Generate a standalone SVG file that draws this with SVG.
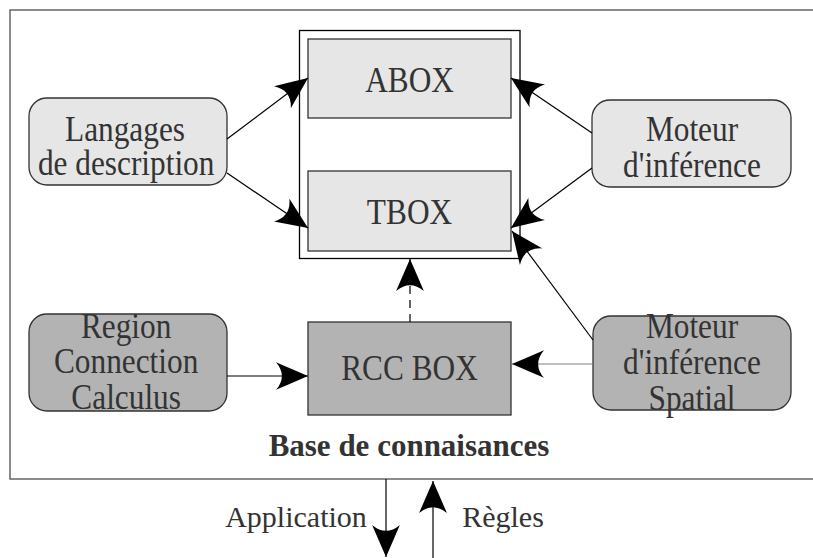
<svg xmlns="http://www.w3.org/2000/svg" width="813" height="558" viewBox="0 0 813 558">
<style>
text{font-family:"Liberation Serif","Times New Roman",serif;fill:#333;text-anchor:middle}
.t{font-size:36px}
.light{fill:#e6e6e6;stroke:#333;stroke-width:1.3}
.dark{fill:#b3b3b3;stroke:#333;stroke-width:1.3}
.ln{stroke:#000;stroke-width:1.2;fill:none}
</style>
<defs>
<marker id="ah" markerUnits="userSpaceOnUse" markerWidth="32" markerHeight="28" viewBox="0 0 30 26" refX="30" refY="13" orient="auto">
<path d="M30,13 Q14,6 0,0 Q11,13 0,26 Q14,20 30,13 Z" fill="#000"/>
</marker>
</defs>
<rect x="10" y="10" width="820" height="469" fill="#fff" stroke="#666" stroke-width="1.5"/>
<g id="container"><rect x="299.5" y="30.5" width="220.5" height="228" fill="#fff" stroke="#000" stroke-width="1.3"/></g>
<g id="abox"><rect class="light" x="308" y="39" width="203" height="79"/><text class="t" transform="scale(0.87,1)" x="470.7" y="92">ABOX</text></g>
<g id="tbox"><rect class="light" x="308" y="171" width="203" height="80"/><text class="t" transform="scale(0.87,1)" x="470.7" y="224">TBOX</text></g>
<g id="langages"><rect class="light" x="29" y="98" width="198" height="87" rx="18"/><text class="t" transform="scale(0.87,1)" x="143.7" y="141">Langages</text><text class="t" transform="scale(0.87,1)" x="145" y="175">de description</text></g>
<g id="moteur"><rect class="light" x="592" y="100" width="199" height="87" rx="18"/><text class="t" transform="scale(0.87,1)" x="795.4" y="141">Moteur</text><text class="t" transform="scale(0.87,1)" x="795.4" y="177">d'inférence</text></g>
<g id="region"><rect class="dark" x="29" y="314" width="198" height="97" rx="18"/><text class="t" transform="scale(0.87,1)" x="145" y="338">Region</text><text class="t" transform="scale(0.87,1)" x="145" y="373">Connection</text><text class="t" transform="scale(0.87,1)" x="145" y="409">Calculus</text></g>
<g id="rcc"><rect class="dark" x="308" y="322" width="203" height="93"/><text class="t" transform="scale(0.87,1)" x="470.7" y="380">RCC BOX</text></g>
<g id="spatial"><rect class="dark" x="593" y="316" width="198" height="94" rx="18"/><text class="t" transform="scale(0.87,1)" x="795.4" y="338">Moteur</text><text class="t" transform="scale(0.87,1)" x="795.4" y="374">d'inférence</text><text class="t" transform="scale(0.87,1)" x="795.4" y="410">Spatial</text></g>
<g id="connectors">
<line class="ln" x1="227" y1="139" x2="308" y2="78" marker-end="url(#ah)"/>
<line class="ln" x1="227" y1="173" x2="308" y2="228" marker-end="url(#ah)"/>
<line class="ln" x1="592" y1="133" x2="511" y2="78" marker-end="url(#ah)"/>
<line class="ln" x1="592" y1="168" x2="511" y2="228" marker-end="url(#ah)"/>
<line class="ln" x1="593" y1="340" x2="512" y2="231" marker-end="url(#ah)"/>
<line class="ln" x1="227" y1="376" x2="308" y2="376" marker-end="url(#ah)"/>
<line class="ln" x1="593" y1="364" x2="512" y2="364" style="stroke:#808080" marker-end="url(#ah)"/>
<line class="ln" x1="410" y1="322" x2="410" y2="259" stroke-dasharray="8,6" marker-end="url(#ah)"/>
<line class="ln" x1="386" y1="479" x2="386" y2="557" marker-end="url(#ah)"/>
<line class="ln" x1="433" y1="558" x2="433" y2="481" marker-end="url(#ah)"/>
</g>
<text x="409" y="456" style="font-size:31px;font-weight:bold">Base de connaisances</text>
<text x="296" y="527" style="font-size:30px">Application</text>
<text x="503" y="527" style="font-size:30px">Règles</text>
</svg>
